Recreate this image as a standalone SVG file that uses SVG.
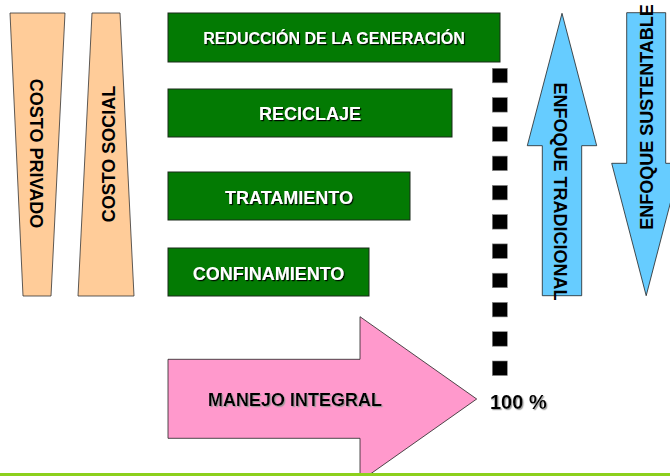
<svg xmlns="http://www.w3.org/2000/svg" width="670" height="476" viewBox="0 0 670 476">
  <style>
    .t { font-family: "Liberation Sans", Arial, sans-serif; font-weight: bold; }
    .w { fill: #ffffff; filter: url(#shW); }
    .k { fill: #000000; }
    .ks { fill: #000000; filter: url(#shK); }
    .box { fill: #037a03; stroke: #1a2a1a; stroke-width: 1; }
    .tan { fill: #ffcc99; stroke: #333333; stroke-width: 0.8; }
    .blue { fill: #66ccff; stroke: #222222; stroke-width: 0.8; }
    .pink { fill: #ff99cc; stroke: #222222; stroke-width: 0.8; }
    .sq { fill: #000000; stroke: #888888; stroke-width: 0.6; }
  </style>
  <defs>
    <filter id="shW" x="-10%" y="-30%" width="120%" height="160%">
      <feDropShadow dx="1.2" dy="1.2" stdDeviation="0.3" flood-color="#000000" flood-opacity="0.9"/>
    </filter>
    <filter id="shK" x="-10%" y="-30%" width="120%" height="160%">
      <feDropShadow dx="1.2" dy="1.2" stdDeviation="0.3" flood-color="#999999" flood-opacity="0.9"/>
    </filter>
    <rect id="dot" width="15" height="14.5"/>
  </defs>

  <rect x="0" y="0" width="670" height="476" fill="#ffffff"/>

  <g id="costo-privado">
    <polygon class="tan" points="10,13 65,13 51,296 23,296"/>
    <text class="t k" font-size="18" text-anchor="middle" transform="translate(30,153.5) rotate(90)">COSTO PRIVADO</text>
  </g>

  <g id="costo-social">
    <polygon class="tan" points="92,13 120,13 134,296 78,296"/>
    <text class="t k" font-size="18" text-anchor="middle" transform="translate(115,154) rotate(-90)">COSTO SOCIAL</text>
  </g>

  <g id="reduccion">
    <rect class="box" x="168" y="13" width="332" height="49"/>
    <text class="t w" font-size="16" text-anchor="middle" x="334" y="43.5">REDUCCIÓN DE LA GENERACIÓN</text>
  </g>

  <g id="reciclaje">
    <rect class="box" x="168" y="89" width="284" height="48"/>
    <text class="t w" font-size="18" text-anchor="middle" x="310" y="120">RECICLAJE</text>
  </g>

  <g id="tratamiento">
    <rect class="box" x="168" y="172" width="242" height="48"/>
    <text class="t w" font-size="18" text-anchor="middle" x="289" y="203.5">TRATAMIENTO</text>
  </g>

  <g id="confinamiento">
    <rect class="box" x="168" y="248" width="201" height="48"/>
    <text class="t w" font-size="18" text-anchor="middle" x="268.5" y="279.5">CONFINAMIENTO</text>
  </g>

  <g id="manejo-integral">
    <polygon class="pink" points="168,359.3 360,359.3 360,316.7 476.7,399 360,481.3 360,438.3 168,438.3"/>
    <text class="t ks" font-size="18" x="208" y="406">MANEJO INTEGRAL</text>
  </g>

  <g id="enfoque-tradicional">
    <polygon class="blue" points="562,13.3 596.7,145.7 581.7,145.7 581.7,295.7 542.3,295.7 542.3,145.7 527.3,145.7"/>
    <text class="t k" font-size="18" text-anchor="middle" transform="translate(553.5,191.5) rotate(90)">ENFOQUE TRADICIONAL</text>
  </g>

  <g id="enfoque-sustentable">
    <polygon class="blue" points="626.7,12.7 665.7,12.7 665.7,163.3 680.7,163.3 646.2,295.7 611.7,163.3 626.7,163.3"/>
    <text class="t k" font-size="18" text-anchor="middle" transform="translate(653,117) rotate(-90)">ENFOQUE SUSTENTABLE</text>
  </g>

  <g id="connectors">
    <g id="escala">
      <use href="#dot" class="sq" x="492.3" y="68.3"/>
      <use href="#dot" class="sq" x="492.3" y="97.6"/>
      <use href="#dot" class="sq" x="492.3" y="126.8"/>
      <use href="#dot" class="sq" x="492.3" y="156.1"/>
      <use href="#dot" class="sq" x="492.3" y="185.4"/>
      <use href="#dot" class="sq" x="492.3" y="214.6"/>
      <use href="#dot" class="sq" x="492.3" y="243.9"/>
      <use href="#dot" class="sq" x="492.3" y="273.2"/>
      <use href="#dot" class="sq" x="492.3" y="302.4"/>
      <use href="#dot" class="sq" x="492.3" y="331.7"/>
      <use href="#dot" class="sq" x="492.3" y="361"/>
    </g>
  </g>

  <g id="cien">
    <text class="t ks" font-size="20" x="490" y="409.3">100 %</text>
  </g>

  <rect id="linea" x="0" y="473" width="670" height="3" fill="#8cd01c"/>
</svg>
